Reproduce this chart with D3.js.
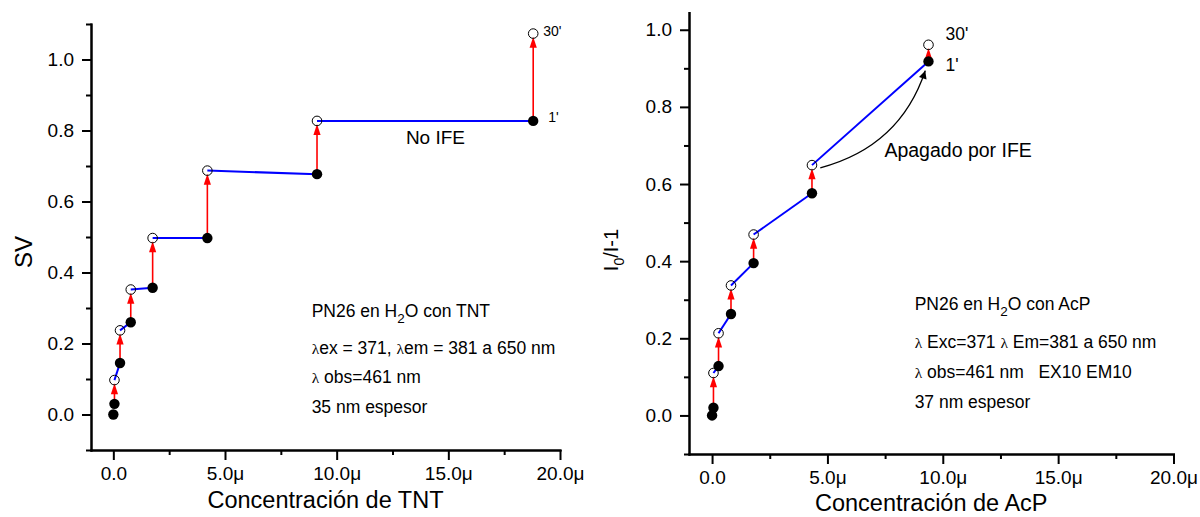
<!DOCTYPE html>
<html>
<head>
<meta charset="utf-8">
<style>
  body { margin: 0; background: #fff; font-family: 'Liberation Sans', Arial, sans-serif; }
  text { white-space: pre; }
  .axis path, .axis line { stroke: #000; stroke-width: 2; }
  .axis text { font-family: 'Liberation Sans', Arial, sans-serif; font-size: 19px; fill: #000; }
</style>
</head>
<body>
<svg width="1200" height="517"></svg>
<script src="https://d3js.org/d3.v7.min.js"></script>
<script>
  // shared ticks
  var xTicks = [0, 5, 10, 15, 20];
  var xMinor = [2.5, 7.5, 12.5, 17.5];
  var yTicks = [0, 0.2, 0.4, 0.6, 0.8, 1.0];

  // left panel: PN26 + TNT (concentration in µM)
  var tntConc = [0, 0.05, 0.3, 0.78, 1.76, 4.21, 9.12, 18.8];
  var tntSV1 = [0, 0.03, 0.145, 0.26, 0.357, 0.497, 0.677, 0.827];      // 1'
  var tntSV30 = [null, 0.097, 0.237, 0.352, 0.497, 0.687, 0.827, 1.073]; // 30'
  var tntYMinor = [-0.1, 0.1, 0.3, 0.5, 0.7, 0.9, 1.1];
  var tntNotes = ["PN26 en H|2|O con TNT", "λex = 371, λem = 381 a 650 nm", "λ obs=461 nm", "35 nm espesor"];

  // right panel: PN26 + AcP
  var acpConc = [0, 0.06, 0.28, 0.82, 1.8, 4.33, 9.38];
  var acpI1 = [0, 0.02, 0.128, 0.263, 0.395, 0.576, 0.918];
  var acpI30 = [null, 0.11, 0.213, 0.337, 0.469, 0.649, 0.961];
  var acpYMinor = [-0.1, 0.1, 0.3, 0.5, 0.7, 0.9];
  var acpNotes = ["PN26 en H|2|O con AcP", "λ Exc=371 λ Em=381 a 650 nm", "λ obs=461 nm   EX10 EM10", "37 nm espesor"];

  var svg = d3.select("svg");
  var R = 5.2;

  // arrowhead for the curved annotation
  var defs = svg.append("defs");
  defs.append("marker").attr("id", "blk").attr("viewBox", "0 0 10 10")
    .attr("refX", 10).attr("refY", 5).attr("markerWidth", 10).attr("markerHeight", 8)
    .attr("markerUnits", "userSpaceOnUse").attr("orient", "auto")
    .append("path").attr("d", "M0,0L10,5L0,10z").attr("fill", "#000");

  function panel(cfg) {
    var x = d3.scaleLinear().domain([-1, 20]).range(cfg.xRange);
    var y = d3.scaleLinear().domain(cfg.yDomain).range(cfg.yRange);
    var g = svg.append("g");

    g.append("g").attr("class", "axis")
      .attr("transform", "translate(0," + cfg.yRange[0] + ")")
      .call(d3.axisBottom(x).tickValues(xMinor).tickSize(5).tickSizeOuter(0).tickFormat(""));
    g.append("g").attr("class", "axis")
      .attr("transform", "translate(0," + cfg.yRange[0] + ")")
      .call(d3.axisBottom(x).tickValues(xTicks).tickSize(10).tickSizeOuter(0).tickPadding(7)
        .tickFormat(function(d) { return d == 0 ? "0.0" : d.toFixed(1) + "μ"; }));
    g.append("g").attr("class", "axis")
      .attr("transform", "translate(" + cfg.xRange[0] + ",0)")
      .call(d3.axisLeft(y).tickValues(cfg.yMinor).tickSize(5).tickSizeOuter(0).tickFormat(""));
    g.append("g").attr("class", "axis")
      .attr("transform", "translate(" + cfg.xRange[0] + ",0)")
      .call(d3.axisLeft(y).tickValues(yTicks).tickSize(9).tickSizeOuter(0).tickPadding(8)
        .tickFormat(d3.format(".1f")));
    g.selectAll(".axis .domain").attr("stroke-linecap", "square");

    var n = cfg.conc.length;
    // blue segments: 30' reading -> next 1' reading
    var seg = d3.line().x(function(d) { return x(d[0]); }).y(function(d) { return y(d[1]); });
    for (var i = 1; i < n - 1; i++) {
      g.append("path").attr("d", seg([[cfg.conc[i], cfg.v30[i]], [cfg.conc[i + 1], cfg.v1[i + 1]]]))
        .attr("fill", "none").attr("stroke", "#0000ff").attr("stroke-width", 2);
    }
    // red arrows 1' -> 30'
    for (var i = 0; i < n; i++) {
      if (cfg.v30[i] == null) continue;
      var cx = x(cfg.conc[i]), y0 = y(cfg.v1[i]), tip = y(cfg.v30[i]) + R * 0.6;
      g.append("line").attr("x1", cx).attr("x2", cx).attr("y1", y0).attr("y2", tip + 8)
        .attr("stroke", "#ff0000").attr("stroke-width", 1.6);
      g.append("path").attr("d", "M" + cx + "," + tip + "L" + (cx - 3.6) + "," + (tip + 11) + "L" + (cx + 3.6) + "," + (tip + 11) + "z")
        .attr("fill", "#ff0000");
    }
    // points
    g.selectAll(".f").data(d3.range(n)).enter().append("circle")
      .attr("cx", function(i) { return x(cfg.conc[i]); })
      .attr("cy", function(i) { return y(cfg.v1[i]); })
      .attr("r", R).attr("fill", "#000");
    g.selectAll(".o").data(d3.range(n).filter(function(i) { return cfg.v30[i] != null; })).enter().append("circle")
      .attr("cx", function(i) { return x(cfg.conc[i]); })
      .attr("cy", function(i) { return y(cfg.v30[i]); })
      .attr("r", R - 0.4).attr("fill", "none").attr("stroke", "#000").attr("stroke-width", 1);

    // 30' / 1' labels at the last pair
    var L = n - 1;
    g.append("text").attr("x", x(cfg.conc[L]) + cfg.lab[0]).attr("y", y(cfg.v30[L]) + cfg.lab[1])
      .attr("font-size", cfg.labSize).text("30'");
    g.append("text").attr("x", x(cfg.conc[L]) + cfg.lab[2]).attr("y", y(cfg.v1[L]) + cfg.lab[3])
      .attr("font-size", cfg.labSize).text("1'");

    // notes block ("|" marks the subscript, λ in a serif face)
    var nx = x(cfg.noteAt[0]), ny = y(cfg.noteAt[1]);
    cfg.notes.forEach(function(s, k) {
      var t = g.append("text").attr("x", nx).attr("y", ny + cfg.noteDy[k]).attr("font-size", 17.5);
      var parts = s.split("|");
      parts.forEach(function(p, j) {
        if (j == 1) {
          t.append("tspan").attr("font-size", 13.5).attr("dy", 6).text(p);
        } else {
          var dy = j == 2 ? -6 : 0;
          p.split("λ").forEach(function(q, m) {
            if (m > 0) {
              t.append("tspan").attr("font-family", "'Liberation Serif', serif").attr("font-size", 15.5)
                .attr("dy", dy).text("λ");
              dy = 0;
            }
            if (q.length) { t.append("tspan").attr("dy", dy).text(q); dy = 0; }
          });
        }
      });
    });

    // x axis title
    g.append("text").attr("x", (cfg.xRange[0] + cfg.xRange[1]) / 2).attr("y", cfg.xTitleY)
      .attr("text-anchor", "middle").attr("font-size", 23.5).text(cfg.xTitle);
    return { x: x, y: y, g: g };
  }

  var left = panel({
    xRange: [91, 560], yDomain: [-0.1, 1.1], yRange: [450, 24], yMinor: tntYMinor,
    conc: tntConc, v1: tntSV1, v30: tntSV30,
    lab: [10, 2, 15, 1], labSize: 14,
    notes: tntNotes, noteAt: [8.88, 0.275], noteDy: [0, 37.3, 66.6, 96],
    xTitle: "Concentración de TNT", xTitleY: 508
  });
  left.g.append("text").attr("transform", "translate(31.5,252) rotate(-90)")
    .attr("text-anchor", "middle").attr("font-size", 24).text("SV");
  left.g.append("text").attr("x", left.x(13.1)).attr("y", left.y(0.763))
    .attr("font-size", 19).text("No IFE");

  var right = panel({
    xRange: [689, 1173.5], yDomain: [-0.1, 1.045], yRange: [454, 12.4], yMinor: acpYMinor,
    conc: acpConc, v1: acpI1, v30: acpI30,
    lab: [17, -5, 17, 9.5], labSize: 17.5,
    notes: acpNotes, noteAt: [8.78, 0.274], noteDy: [0, 38.3, 68.3, 98.3],
    xTitle: "Concentración de AcP", xTitleY: 511
  });
  var yt = right.g.append("text").attr("transform", "translate(618,250) rotate(-90)")
    .attr("text-anchor", "middle").attr("font-size", 20);
  yt.append("tspan").text("I");
  yt.append("tspan").attr("font-size", 14).attr("dy", 6).text("0");
  yt.append("tspan").attr("dy", -6).text("/I-1");

  // curved arrow "Apagado por IFE"
  var rx = right.x, ry = right.y;
  var p0 = [rx(4.69), ry(0.642)], pc = [rx(8.15), ry(0.697)], p1 = [rx(9.24), ry(0.894)];
  right.g.append("path")
    .attr("d", "M" + p0 + "Q" + pc + " " + p1)
    .attr("fill", "none").attr("stroke", "#000").attr("stroke-width", 1.4)
    .attr("marker-end", "url(#blk)");
  right.g.append("text").attr("x", rx(7.47)).attr("y", ry(0.671))
    .attr("font-size", 19.5).text("Apagado por IFE");
</script>
</body>
</html>
